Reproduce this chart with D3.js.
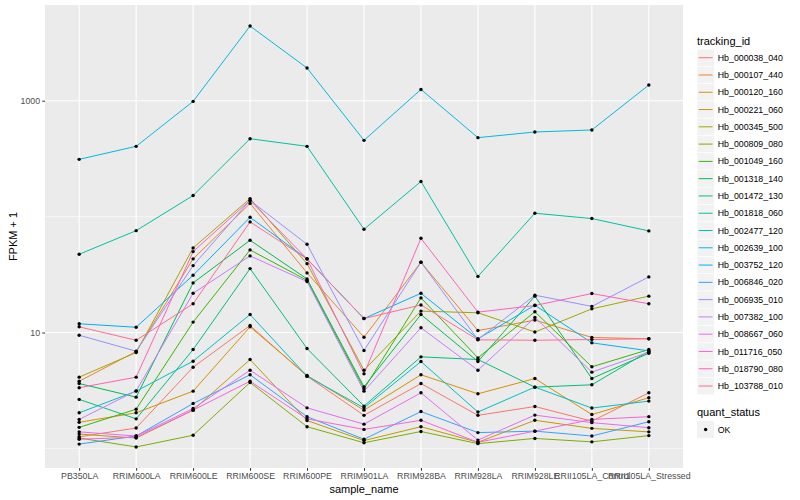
<!DOCTYPE html>
<html>
<head>
<meta charset="utf-8">
<script src="https://cdn.jsdelivr.net/npm/d3@7"></script>
<style>
  body { margin: 0; background: #fff; }
  text { font-family: "Liberation Sans", Arial, sans-serif; }
</style>
</head>
<body>
<script>
// x categories
var samples = ["PB350LA", "RRIM600LA", "RRIM600LE", "RRIM600SE", "RRIM600PE", "RRIM901LA",
  "RRIM928BA", "RRIM928LA", "RRIM928LE", "RRII105LA_Control", "RRII105LA_Stressed"];

var trackingIds = ["Hb_000038_040", "Hb_000107_440", "Hb_000120_160", "Hb_000221_060", "Hb_000345_500",
  "Hb_000809_080", "Hb_001049_160", "Hb_001318_140", "Hb_001472_130", "Hb_001818_060",
  "Hb_002477_120", "Hb_002639_100", "Hb_003752_120", "Hb_006846_020", "Hb_006935_010",
  "Hb_007382_100", "Hb_008667_060", "Hb_011716_050", "Hb_018790_080", "Hb_103788_010"];

// FPKM + 1, one array per gene, in sample order
var hb000038_040 = [1.26, 1.50, 5.02, 11.5, 4.20, 1.93, 3.63, 1.93, 2.30, 1.72, 3.02];
var hb000107_440 = [3.80, 6.86, 43.2, 130, 32.7, 9.11, 40.4, 10.4, 12.8, 9.06, 8.83];
var hb000120_160 = [1.68, 2.03, 3.12, 11.2, 4.26, 2.14, 4.32, 2.96, 4.01, 1.96, 2.74];
var hb000221_060 = [1.33, 1.23, 2.14, 5.85, 1.74, 1.17, 1.54, 1.13, 1.75, 1.49, 1.39];
var hb000345_500 = [4.12, 6.72, 53.7, 143, 39.3, 4.73, 15.3, 14.8, 10.1, 16.0, 20.6];
var hb000809_080 = [1.23, 1.03, 1.30, 3.71, 1.54, 1.12, 1.40, 1.10, 1.22, 1.14, 1.29];
var hb001049_160 = [1.52, 2.18, 12.3, 51.6, 28.2, 3.27, 19.9, 6.05, 15.1, 5.06, 7.13];
var hb001318_140 = [3.63, 2.77, 26.8, 62.5, 29.0, 3.40, 14.3, 5.62, 20.6, 4.01, 6.63];
var hb001472_130 = [2.65, 1.80, 7.13, 35.6, 7.28, 2.32, 6.17, 5.85, 3.38, 3.54, 6.90];
var hb001818_060 = [47.3, 75.7, 152, 470, 404, 77.8, 201, 30.5, 107, 96.2, 75.3];
var hb002477_120 = [2.03, 3.12, 5.66, 14.3, 4.20, 2.24, 5.62, 2.06, 3.38, 2.23, 2.56];
var hb002639_100 = [312, 404, 986, 4406, 1914, 455, 1251, 480, 537, 559, 1365];
var hb003752_120 = [11.9, 11.1, 31.2, 98.6, 43.2, 13.2, 21.8, 8.83, 17.2, 8.15, 6.95];
var hb006846_020 = [1.09, 1.28, 2.44, 4.32, 1.88, 1.20, 2.08, 1.37, 1.41, 1.28, 1.70];
var hb006935_010 = [9.48, 6.90, 37.8, 138, 57.7, 7.00, 40.4, 8.70, 21.0, 16.8, 30.2];
var hb007382_100 = [1.78, 3.14, 21.8, 45.8, 27.5, 3.12, 11.0, 4.73, 13.5, 4.55, 6.76];
var hb008667_060 = [1.39, 1.28, 2.21, 4.73, 2.24, 1.62, 3.02, 1.18, 1.94, 1.67, 1.51];
var hb011716_050 = [1.20, 1.25, 2.14, 3.80, 1.80, 1.46, 1.75, 1.13, 1.41, 1.78, 1.88];
var hb018790_080 = [3.34, 4.12, 49.9, 138, 43.2, 4.40, 65.0, 15.0, 17.1, 21.7, 17.7];
var hb103788_010 = [11.2, 8.58, 17.7, 90.0, 43.2, 13.2, 17.3, 8.65, 8.58, 8.70, 8.83];

var yTicks = [10, 1000];
var yMinor = [1, 100];

// ggplot hue palette, 20 levels
var hueColors = ["#F8766D", "#EA8331", "#D89000", "#C09B00", "#A3A500", "#7CAE00", "#39B600",
  "#00BB4E", "#00BF7D", "#00C1A3", "#00BFC4", "#00BAE0", "#00B0F6", "#35A2FF", "#9590FF",
  "#C77CFF", "#E76BF3", "#FA62DB", "#FF62BC", "#FF6C91"];

var seriesValues = [hb000038_040, hb000107_440, hb000120_160, hb000221_060, hb000345_500,
  hb000809_080, hb001049_160, hb001318_140, hb001472_130, hb001818_060,
  hb002477_120, hb002639_100, hb003752_120, hb006846_020, hb006935_010,
  hb007382_100, hb008667_060, hb011716_050, hb018790_080, hb103788_010];

var series = trackingIds.map(function (id, i) {
  return {
    id: id,
    color: hueColors[i],
    values: samples.map(function (s, j) { return { x: s, y: seriesValues[i][j] }; })
  };
});

var width = 800, height = 500;
var panel = { left: 45, right: 683, top: 5, bottom: 468 };

var svg = d3.select("body").append("svg")
  .attr("width", width)
  .attr("height", height);

// scales
var xScale = d3.scalePoint()
  .domain(samples)
  .range([panel.left, panel.right])
  .padding(0.6);

var allVals = d3.merge(seriesValues);
var lo = Math.log10(d3.min(allVals)), hi = Math.log10(d3.max(allVals));
var pad = (hi - lo) * 0.05;
var yScale = d3.scaleLog()
  .domain([Math.pow(10, lo - pad), Math.pow(10, hi + pad)])
  .range([panel.bottom, panel.top]);

// panel background
svg.append("rect")
  .attr("x", panel.left).attr("y", panel.top)
  .attr("width", panel.right - panel.left)
  .attr("height", panel.bottom - panel.top)
  .attr("fill", "#EBEBEB");

// grid
svg.selectAll(".minor")
  .data(yMinor)
  .enter().append("line")
  .attr("x1", panel.left).attr("x2", panel.right)
  .attr("y1", function (d) { return yScale(d); })
  .attr("y2", function (d) { return yScale(d); })
  .attr("stroke", "#fff").attr("stroke-width", 0.55);

svg.selectAll(".major")
  .data(yTicks)
  .enter().append("line")
  .attr("x1", panel.left).attr("x2", panel.right)
  .attr("y1", function (d) { return yScale(d); })
  .attr("y2", function (d) { return yScale(d); })
  .attr("stroke", "#fff").attr("stroke-width", 1.1);

svg.selectAll(".vgrid")
  .data(samples)
  .enter().append("line")
  .attr("x1", function (d) { return xScale(d); })
  .attr("x2", function (d) { return xScale(d); })
  .attr("y1", panel.top).attr("y2", panel.bottom)
  .attr("stroke", "#fff").attr("stroke-width", 1.1);

// lines
var line = d3.line()
  .x(function (d) { return xScale(d.x); })
  .y(function (d) { return yScale(d.y); });

svg.selectAll(".line")
  .data(series)
  .enter().append("path")
  .attr("class", "line")
  .attr("d", function (d) { return line(d.values); })
  .attr("fill", "none")
  .attr("stroke", function (d) { return d.color; })
  .attr("stroke-width", 1);

// points
svg.selectAll(".dot")
  .data(d3.merge(series.map(function (s) { return s.values; })))
  .enter().append("circle")
  .attr("cx", function (d) { return xScale(d.x); })
  .attr("cy", function (d) { return yScale(d.y); })
  .attr("r", 1.7)
  .attr("fill", "#000");

// axes
var yAxis = svg.append("g")
  .attr("transform", "translate(" + panel.left + ",0)")
  .call(d3.axisLeft(yScale).tickValues(yTicks).tickFormat(d3.format("d")).tickSize(2.75).tickPadding(2.2));
var xAxis = svg.append("g")
  .attr("transform", "translate(0," + panel.bottom + ")")
  .call(d3.axisBottom(xScale).tickSize(2.75).tickPadding(2.2));

[xAxis, yAxis].forEach(function (g) {
  g.select(".domain").remove();
  g.selectAll(".tick line").attr("stroke", "#333").attr("stroke-width", 1);
  g.selectAll(".tick text")
    .attr("fill", "#4D4D4D")
    .style("font-size", "8.8px")
    .style("font-family", "'Liberation Sans', Arial, sans-serif");
});

// axis titles
svg.append("text")
  .attr("x", (panel.left + panel.right) / 2)
  .attr("y", 493)
  .style("text-anchor", "middle")
  .style("font-size", "11px")
  .text("sample_name");

svg.append("text")
  .attr("transform", "translate(16.5," + ((panel.top + panel.bottom) / 2) + ") rotate(-90)")
  .style("text-anchor", "middle")
  .style("font-size", "11px")
  .text("FPKM + 1");

// legend: tracking_id
var keyX = 697, keySize = 17.28, firstKey = 57.7;
svg.append("text")
  .attr("x", keyX).attr("y", 44.5)
  .style("font-size", "11px")
  .text("tracking_id");

var leg = svg.selectAll(".leg")
  .data(series)
  .enter().append("g")
  .attr("transform", function (d, i) {
    return "translate(" + keyX + "," + (firstKey + i * keySize) + ")";
  });

leg.append("rect")
  .attr("x", 0).attr("y", -keySize / 2)
  .attr("width", keySize).attr("height", keySize)
  .attr("fill", "#F2F2F2")
  .attr("stroke", "#fff").attr("stroke-width", 0.6);

leg.append("line")
  .attr("x1", 1.7).attr("x2", keySize - 1.7)
  .attr("y1", 0).attr("y2", 0)
  .attr("stroke", function (d) { return d.color; })
  .attr("stroke-width", 1);

leg.append("text")
  .attr("x", keySize + 3.5).attr("y", 3.1)
  .style("font-size", "8.8px")
  .text(function (d) { return d.id; });

// legend: quant_status
svg.append("text")
  .attr("x", keyX).attr("y", 416)
  .style("font-size", "11px")
  .text("quant_status");

var q = svg.append("g").attr("transform", "translate(" + keyX + ",429.5)");
q.append("rect")
  .attr("x", 0).attr("y", -keySize / 2)
  .attr("width", keySize).attr("height", keySize)
  .attr("fill", "#F2F2F2");
q.append("circle")
  .attr("cx", keySize / 2).attr("cy", 0).attr("r", 1.7)
  .attr("fill", "#000");
q.append("text")
  .attr("x", keySize + 3.5).attr("y", 3.1)
  .style("font-size", "8.8px")
  .text("OK");
</script>
</body>
</html>
